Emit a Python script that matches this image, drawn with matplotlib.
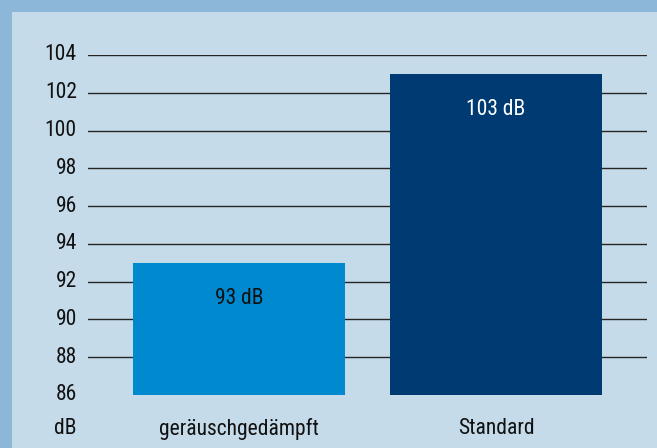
import matplotlib
matplotlib.use("Agg")
import matplotlib.pyplot as plt
from matplotlib.patches import Rectangle

categories = ["geräuschgedämpft", "Standard"]
values = [93, 103]
value_labels = ["93 dB", "103 dB"]
yticks = [86, 88, 90, 92, 94, 96, 98, 100, 102, 104]
unit_label = "dB"
bar_colors = ["#0089cf", "#003a72"]
label_colors = ["#111111", "#ffffff"]

plt.rcParams["font.family"] = ["Roboto Condensed", "DejaVu Sans"]
FS = 15.5

W, H = 657, 448
fig = plt.figure(figsize=(W / 100, H / 100), dpi=100)
fig.patch.set_facecolor("#8cb7d9")
fig.patches.append(Rectangle((12 / W, 0), 1 - 12 / W, 1 - 12 / H, transform=fig.transFigure,
                             facecolor="#c5dbe9", edgecolor="none", zorder=-10))

ax = fig.add_axes([88 / W, (H - 395) / H, 559 / W, 340 / H])
ax.set_zorder(5)
ax.set_facecolor("none")
ax.set_ylim(86, 104)
ax.set_xlim(-0.5875, 1.5875)
for s in ax.spines.values():
    s.set_visible(False)
ax.set_xticks([])
ax.set_yticks([])

for t in yticks[1:]:
    ax.axhline(t, color="#262626", lw=1.0, zorder=1)

x = list(range(len(categories)))
ax.bar(x, [v - 86 for v in values], bottom=86, width=0.825, color=bar_colors, zorder=2)

for xi, v, lab, c in zip(x, values, value_labels, label_colors):
    ax.text(xi, v - 1.9, lab, ha="center", va="center", color=c, fontsize=FS, zorder=3)

trans_y = ax.get_yaxis_transform()
for t in yticks:
    ax.text(-0.02, t, str(t), transform=trans_y, ha="right", va="center", fontsize=FS, color="#111111")

# unit label and category labels below
ax.text(-0.02, 84.2, unit_label, transform=trans_y, ha="right", va="center", fontsize=FS,
        color="#111111", clip_on=False)
for xi, c in zip(x, categories):
    ax.text(xi, 84.2, c, ha="center", va="center", fontsize=FS, color="#111111", clip_on=False)

fig.savefig("out.png", dpi=100, facecolor=fig.get_facecolor())
